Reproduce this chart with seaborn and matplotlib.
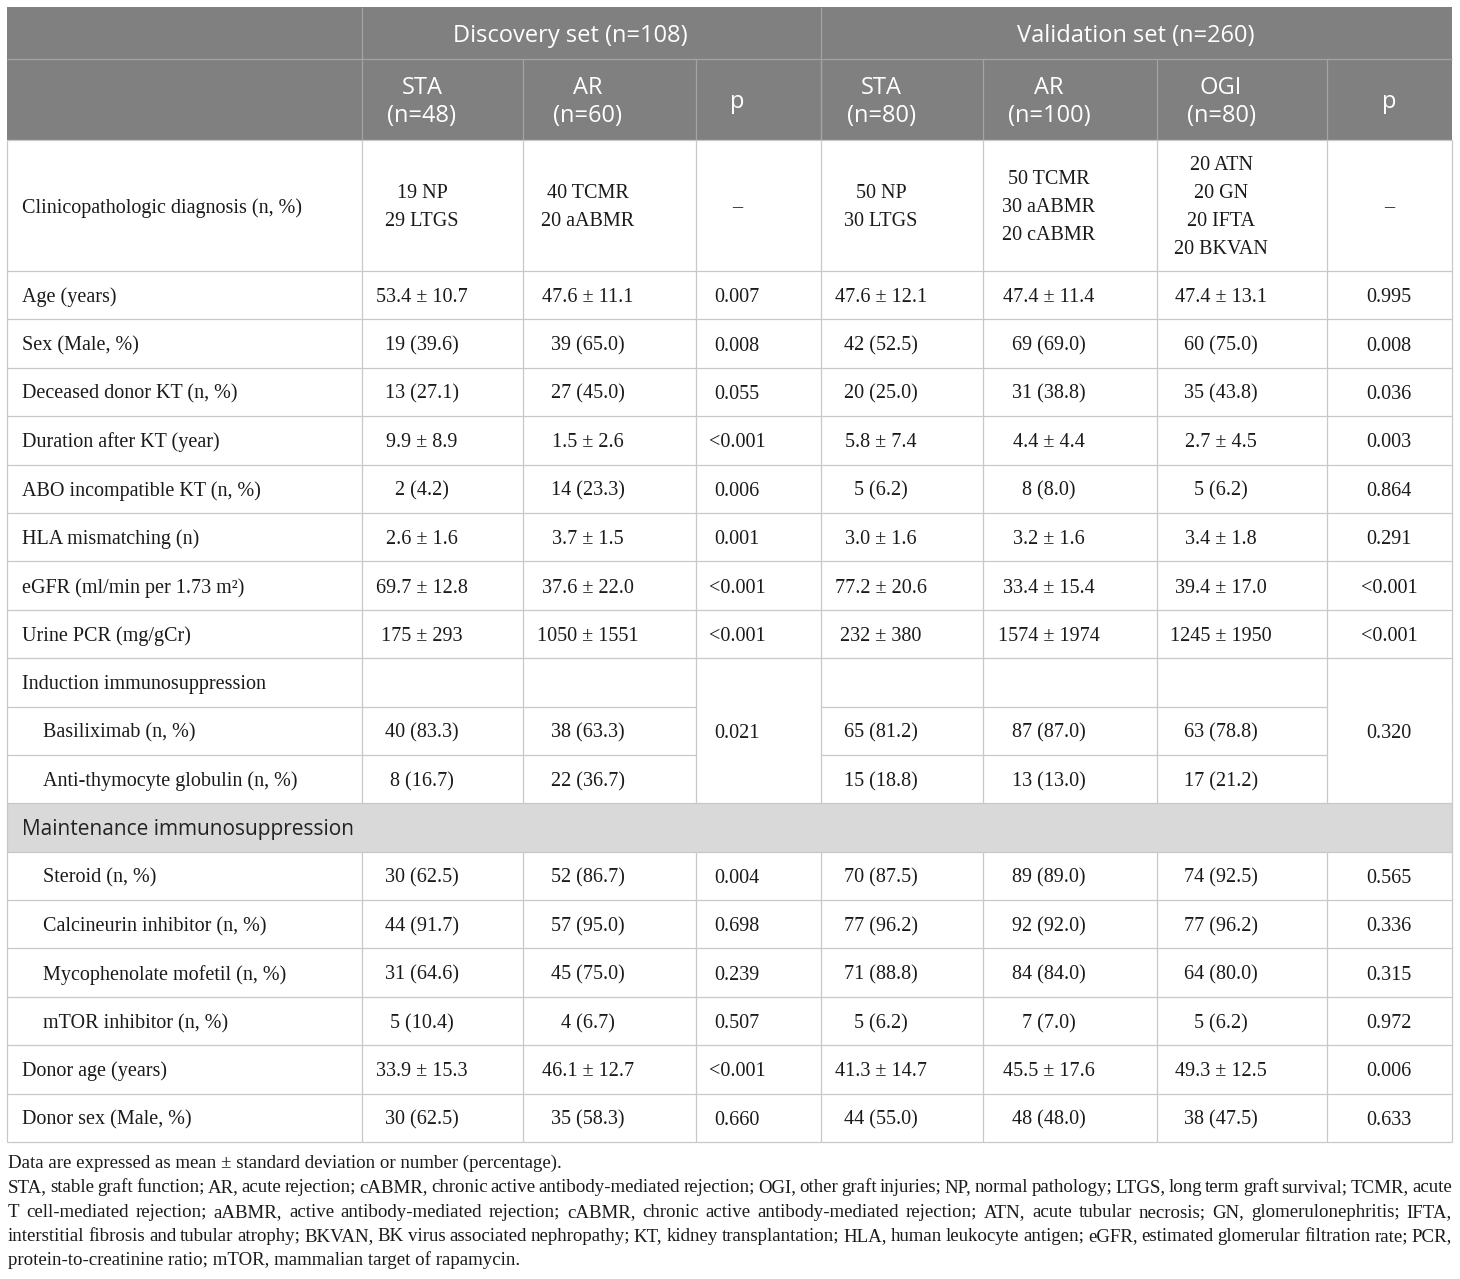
import matplotlib
matplotlib.use("Agg")
import matplotlib.pyplot as plt
import seaborn as sns
from matplotlib.patches import Rectangle

# ---- table content -------------------------------------------------------
group_titles = ["Discovery set (n=108)", "Validation set (n=260)"]
col_headers = ["STA\n(n=48)", "AR\n(n=60)", "p", "STA\n(n=80)", "AR\n(n=100)", "OGI\n(n=80)", "p"]

row_labels = [
    "Clinicopathologic diagnosis (n, %)", "Age (years)", "Sex (Male, %)",
    "Deceased donor KT (n, %)", "Duration after KT (year)", "ABO incompatible KT (n, %)",
    "HLA mismatching (n)", "eGFR (ml/min per 1.73 m²)", "Urine PCR (mg/gCr)",
    "Induction immunosuppression", "Basiliximab (n, %)", "Anti-thymocyte globulin (n, %)",
    "Maintenance immunosuppression", "Steroid (n, %)", "Calcineurin inhibitor (n, %)",
    "Mycophenolate mofetil (n, %)", "mTOR inhibitor (n, %)", "Donor age (years)",
    "Donor sex (Male, %)",
]
indented = [10, 11, 13, 14, 15, 16]
section_row = 12

disc_sta = ["19 NP\n29 LTGS", "53.4 ± 10.7", "19 (39.6)", "13 (27.1)", "9.9 ± 8.9", "2 (4.2)",
            "2.6 ± 1.6", "69.7 ± 12.8", "175 ± 293", "", "40 (83.3)", "8 (16.7)", None,
            "30 (62.5)", "44 (91.7)", "31 (64.6)", "5 (10.4)", "33.9 ± 15.3", "30 (62.5)"]
disc_ar = ["40 TCMR\n20 aABMR", "47.6 ± 11.1", "39 (65.0)", "27 (45.0)", "1.5 ± 2.6", "14 (23.3)",
           "3.7 ± 1.5", "37.6 ± 22.0", "1050 ± 1551", "", "38 (63.3)", "22 (36.7)", None,
           "52 (86.7)", "57 (95.0)", "45 (75.0)", "4 (6.7)", "46.1 ± 12.7", "35 (58.3)"]
disc_p = ["–", "0.007", "0.008", "0.055", "<0.001", "0.006", "0.001", "<0.001", "<0.001",
          "0.021", "", "", None, "0.004", "0.698", "0.239", "0.507", "<0.001", "0.660"]
val_sta = ["50 NP\n30 LTGS", "47.6 ± 12.1", "42 (52.5)", "20 (25.0)", "5.8 ± 7.4", "5 (6.2)",
           "3.0 ± 1.6", "77.2 ± 20.6", "232 ± 380", "", "65 (81.2)", "15 (18.8)", None,
           "70 (87.5)", "77 (96.2)", "71 (88.8)", "5 (6.2)", "41.3 ± 14.7", "44 (55.0)"]
val_ar = ["50 TCMR\n30 aABMR\n20 cABMR", "47.4 ± 11.4", "69 (69.0)", "31 (38.8)", "4.4 ± 4.4",
          "8 (8.0)", "3.2 ± 1.6", "33.4 ± 15.4", "1574 ± 1974", "", "87 (87.0)", "13 (13.0)", None,
          "89 (89.0)", "92 (92.0)", "84 (84.0)", "7 (7.0)", "45.5 ± 17.6", "48 (48.0)"]
val_ogi = ["20 ATN\n20 GN\n20 IFTA\n20 BKVAN", "47.4 ± 13.1", "60 (75.0)", "35 (43.8)", "2.7 ± 4.5",
           "5 (6.2)", "3.4 ± 1.8", "39.4 ± 17.0", "1245 ± 1950", "", "63 (78.8)", "17 (21.2)", None,
           "74 (92.5)", "77 (96.2)", "64 (80.0)", "5 (6.2)", "49.3 ± 12.5", "38 (47.5)"]
val_p = ["–", "0.995", "0.008", "0.036", "0.003", "0.864", "0.291", "<0.001", "<0.001",
         "0.320", "", "", None, "0.565", "0.336", "0.315", "0.972", "0.006", "0.633"]
columns = [disc_sta, disc_ar, disc_p, val_sta, val_ar, val_ogi, val_p]
p_cols = [2, 6]
merged_start, merged_span = 9, 3   # p cell of the induction block

footnotes = [
    "Data are expressed as mean ± standard deviation or number (percentage).",
    "STA, stable graft function; AR, acute rejection; cABMR, chronic active antibody-mediated rejection; OGI, other graft injuries; NP, normal pathology; LTGS, long term graft survival; TCMR, acute",
    "T cell-mediated rejection; aABMR, active antibody-mediated rejection; cABMR, chronic active antibody-mediated rejection; ATN, acute tubular necrosis; GN, glomerulonephritis; IFTA,",
    "interstitial fibrosis and tubular atrophy; BKVAN, BK virus associated nephropathy; KT, kidney transplantation; HLA, human leukocyte antigen; eGFR, estimated glomerular filtration rate; PCR,",
    "protein-to-creatinine ratio; mTOR, mammalian target of rapamycin.",
]

# ---- layout (pixels) -----------------------------------------------------
W, H = 1460, 1279
col_edges = [7, 362, 523, 696, 821, 983, 1157, 1327, 1452]
text_x = [422, 588, 737, 881, 1049, 1221, 1389]
group_x = [570, 1136]
head_top, head_mid, head_bot = 7, 59, 140
row_edges = [140, 271] + [271 + 48.39 * k for k in range(1, 19)]
line_gap = 28

HEAD_BG, HEAD_LINE = "#808080", "#a3a3a3"
GRID, BAND = "#c8c8c8", "#d9d9d9"
TXT = "#1a1a1a"

sns.set_theme(style="white")
plt.rcParams["font.family"] = ["Liberation Serif", "DejaVu Serif"]

fig = plt.figure(figsize=(W / 100, H / 100), dpi=100)
ax = fig.add_axes([0, 0, 1, 1])
ax.set_xlim(0, W)
ax.set_ylim(H, 0)
ax.axis("off")

head_font = dict(family=["Open Sans", "DejaVu Sans"], fontsize=17)
band_font = dict(family=["Open Sans", "DejaVu Sans"], fontsize=15)
serif = dict(family=["Liberation Serif", "DejaVu Serif"], fontsize=14.5, color=TXT)


def multiline(x, yc, s, baseline_off, **kw):
    lines = s.split("\n")
    n = len(lines)
    for i, ln in enumerate(lines):
        y = yc + (i - (n - 1) / 2) * line_gap + baseline_off
        ax.text(x, y, ln, va="baseline", **kw)


def hline(y, x0, x1, color):
    ax.plot([x0, x1], [y, y], color=color, lw=0.9, solid_capstyle="butt")


def vline(x, y0, y1, color):
    ax.plot([x, x], [y0, y1], color=color, lw=0.9, solid_capstyle="butt")


# header block
ax.add_patch(Rectangle((col_edges[0], head_top), col_edges[-1] - col_edges[0],
                       head_bot - head_top, color=HEAD_BG, lw=0))
hline(head_mid, col_edges[0], col_edges[-1], HEAD_LINE)
for x in [col_edges[1], col_edges[4]]:
    vline(x, head_top, head_bot, HEAD_LINE)
for x in col_edges[2:-1]:
    vline(x, head_mid, head_bot, HEAD_LINE)
for gx, title in zip(group_x, group_titles):
    ax.text(gx, (head_top + head_mid) / 2 + 8.5, title, ha="center", va="baseline",
            color="white", **head_font)
for tx, hd in zip(text_x, col_headers):
    multiline(tx, (head_mid + head_bot) / 2, hd, 8.5, ha="center", color="white", **head_font)

# section band
ax.add_patch(Rectangle((col_edges[0], row_edges[section_row]), col_edges[-1] - col_edges[0],
                       row_edges[section_row + 1] - row_edges[section_row], color=BAND, lw=0))

# grid lines
n_rows = len(row_labels)
for r in range(n_rows + 1):
    y = row_edges[r]
    for c in range(len(col_edges) - 1):
        cell = c - 1
        inside_merge = merged_start < r < merged_start + merged_span
        if inside_merge and cell in p_cols:
            continue
        hline(y, col_edges[c], col_edges[c + 1], GRID)
for r in range(n_rows):
    y0, y1 = row_edges[r], row_edges[r + 1]
    xs = col_edges if r != section_row else [col_edges[0], col_edges[-1]]
    for x in xs:
        vline(x, y0, y1, GRID)

# body text
for r, label in enumerate(row_labels):
    yc = (row_edges[r] + row_edges[r + 1]) / 2
    if r == section_row:
        ax.text(22, yc + 7.5, label, ha="left", va="baseline", color="#222222", **band_font)
        continue
    lx = 43 if r in indented else 22
    ax.text(lx, yc + 7, label, ha="left", va="baseline", **serif)
    for c, col in enumerate(columns):
        val = col[r]
        if not val:
            continue
        if c in p_cols and r == merged_start:
            yc_m = (row_edges[r] + row_edges[r + merged_span]) / 2
            ax.text(text_x[c], yc_m + 7, val, ha="center", va="baseline", **serif)
        else:
            multiline(text_x[c], yc, val, 7, ha="center", **serif)

# footnotes, justified except first and last line
renderer = fig.canvas.get_renderer()
foot = dict(family=["Liberation Serif", "DejaVu Serif"], fontsize=13.6, color=TXT)
foot_y = [1163, 1187, 1212, 1236, 1260]
x0, x1 = 8, 1452
for i, (line, yc) in enumerate(zip(footnotes, foot_y)):
    yb = yc + 5
    if i in (0, len(footnotes) - 1):
        ax.text(x0, yb, line, ha="left", va="baseline", **foot)
        continue
    words = line.split(" ")
    arts = [ax.text(0, yb, w, ha="left", va="baseline", **foot) for w in words]
    widths = [a.get_window_extent(renderer).width for a in arts]
    gap = (x1 - x0 - sum(widths)) / (len(words) - 1)
    x = x0
    for a, w in zip(arts, widths):
        a.set_x(x)
        x += w + gap

fig.savefig("out.png", dpi=100, facecolor="white")
